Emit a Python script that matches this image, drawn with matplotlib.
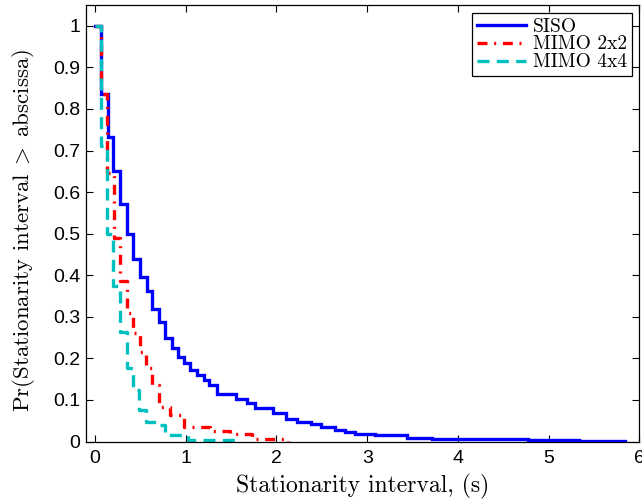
import matplotlib
matplotlib.use("Agg")
import matplotlib.pyplot as plt

# ---- data ----
siso_x = [0, 0.066, 0.147, 0.202, 0.276, 0.349, 0.423, 0.490, 0.571, 0.626, 0.710,
          0.773, 0.847, 0.909, 0.983, 1.05, 1.12, 1.20, 1.26, 1.34, 1.55, 1.68, 1.76,
          1.96, 2.10, 2.23, 2.38, 2.49, 2.65, 2.76, 2.87, 3.09, 3.44, 3.72, 4.77, 5.34, 5.84]
siso_y = [1, 0.836, 0.732, 0.65, 0.571, 0.499, 0.44, 0.396, 0.361, 0.318, 0.287,
          0.25, 0.226, 0.203, 0.189, 0.171, 0.159, 0.147, 0.135, 0.115, 0.103, 0.092, 0.081,
          0.069, 0.055, 0.048, 0.041, 0.034, 0.028, 0.022, 0.018, 0.0145, 0.009, 0.0065, 0.004, 0.0017, 0]

mimo2_x = [0, 0.066, 0.136, 0.204, 0.276, 0.35, 0.417, 0.49, 0.56, 0.626, 0.70,
           0.83, 0.98, 1.27, 1.49, 1.73, 2.13]
mimo2_y = [1, 0.836, 0.646, 0.489, 0.386, 0.31, 0.26, 0.215, 0.176, 0.135, 0.083,
           0.063, 0.034, 0.026, 0.019, 0.005, 0]

mimo4_x = [0, 0.066, 0.129, 0.202, 0.276, 0.35, 0.418, 0.484, 0.556, 0.69, 0.77, 1.03, 1.58]
mimo4_y = [1, 0.711, 0.50, 0.375, 0.264, 0.177, 0.125, 0.075, 0.0465, 0.04, 0.0145, 0.004, 0]

labels = ["SISO", "MIMO 2x2", "MIMO 4x4"]
xticks = [0, 1, 2, 3, 4, 5, 6]
yticks = [0, 0.1, 0.2, 0.3, 0.4, 0.5, 0.6, 0.7, 0.8, 0.9, 1]
ytick_labels = ["0", "0.1", "0.2", "0.3", "0.4", "0.5", "0.6", "0.7", "0.8", "0.9", "1"]

plt.rcParams['mathtext.fontset'] = 'cm'

fig = plt.figure(figsize=(6.42, 5.03), dpi=100)
ax = fig.add_axes([86/642, (503-441.5)/503, (639.3-86)/642, (441.5-5)/503])

lw = 2.4
ax.plot(siso_x, siso_y, drawstyle='steps-post', color=(0, 0, 1), lw=lw,
        label=labels[0], solid_joinstyle='miter')
ax.plot(mimo2_x, mimo2_y, drawstyle='steps-post', color=(1, 0, 0), lw=lw,
        linestyle=(0, (3.0, 2.0, 0.6, 2.0)), label=labels[1])
ax.plot(mimo4_x, mimo4_y, drawstyle='steps-post', color=(0, 0.75, 0.75), lw=lw,
        linestyle=(0, (3.6, 2.2)), label=labels[2])

ax.set_xlim(-0.1, 6)
ax.set_ylim(0, 1.05)
ax.set_xticks(xticks)
ax.set_yticks(yticks)
ax.set_yticklabels(ytick_labels)
ax.tick_params(direction='in', top=True, right=True, length=5, width=0.8,
               labelsize=14)
ax.tick_params(axis='y', pad=4)
ax.tick_params(axis='x', pad=6)
for lab in ax.get_xticklabels() + ax.get_yticklabels():
    lab.set_family('Liberation Sans')
for s in ax.spines.values():
    s.set_linewidth(0.9)

ax.set_xlabel('Stationarity interval, (s)', family='cmr10', fontsize=17, labelpad=5)
ax.set_ylabel(r'Pr(Stationarity interval$\;>\;$abscissa)', family='cmr10', fontsize=16.5)
ax.yaxis.set_label_coords(-0.089, 0.4845)

leg = ax.legend(loc='upper right', prop={'family': 'cmr10', 'size': 14},
                frameon=True, fancybox=False, framealpha=1, edgecolor='black',
                borderaxespad=0.4, borderpad=0.25, labelspacing=0.0,
                handlelength=2.5, handletextpad=0.35)
leg.get_frame().set_linewidth(0.9)

fig.savefig('out.png', dpi=100)
